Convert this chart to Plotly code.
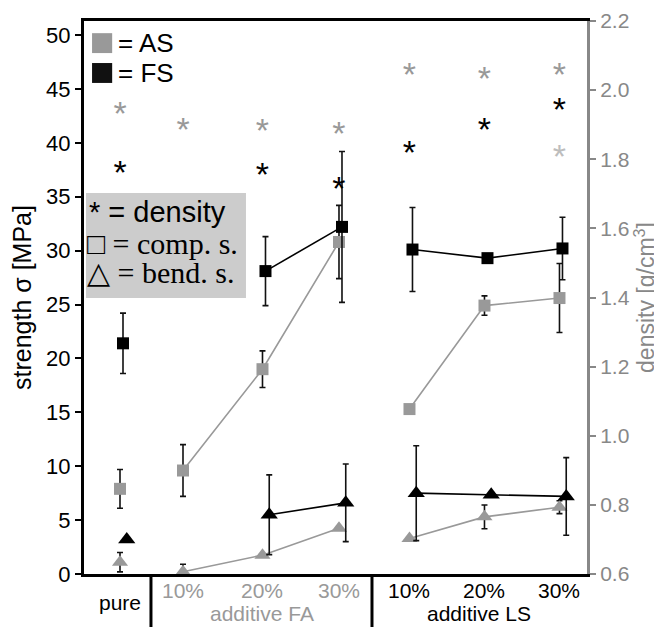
import plotly.graph_objects as go

# ---------------- data ----------------
categories = ["pure", "10%", "20%", "30%", "10%", "20%", "30%"]
group_labels = ["additive FA", "additive LS"]
cat_pos = [0.0, 0.84, 1.9, 2.92, 3.86, 4.86, 5.86]

as_comp = [7.9, 9.6, 19.0, 30.8, 15.3, 24.9, 25.6]
as_comp_err = [1.8, 2.4, 1.7, 3.4, 0.0, 0.9, 3.2]
fs_comp = [21.4, None, 28.1, 32.2, 30.1, 29.3, 30.2]
fs_comp_err = [2.8, None, 3.2, 7.0, 3.9, 0.3, 2.9]

as_bend = [1.1, 0.2, 1.75, 4.25, 3.3, 5.3, 6.2]
as_bend_err = [0.9, 0.7, 0.0, 0.0, 0.0, 1.1, 0.6]
fs_bend = [3.2, None, 5.5, 6.6, 7.5, 7.35, 7.2]
fs_bend_err = [0.0, None, 3.7, 3.6, 4.4, 0.0, 3.6]

as_density = [1.95, 1.905, 1.90, 1.893, 2.064, 2.052, 2.064]
fs_density = [1.78, None, 1.775, 1.734, 1.838, 1.905, 1.963]
extra_density = [None, None, None, None, None, None, 1.827]

# ---------------- style ----------------
GRAY = "#999999"
LIGHT = "#bdbdbd"
BLACK = "#000000"
W, H = 654, 619          # page body has an 8px margin
ML, MR, MT, MB = 76, 75, 13, 53
PLOT_H = H - MT - MB
Y2_RANGE = [0.6, 2.2]
STAR_SIZE = 34
star_drop = 0.27 * STAR_SIZE * (Y2_RANGE[1] - Y2_RANGE[0]) / PLOT_H

segments = [[1, 2, 3], [4, 5, 6]]


def seg_xy(vals, dx=0.0):
    xs, ys = [], []
    for seg in segments:
        for i in seg:
            if vals[i] is not None:
                xs.append(cat_pos[i] + dx)
                ys.append(vals[i])
        xs.append(None)
        ys.append(None)
    return xs, ys


fig = go.Figure()

series = [
    (as_comp, as_comp_err, GRAY, "square", 0.0, 12),
    (fs_comp, fs_comp_err, BLACK, "square", 0.04, 12),
    (as_bend, as_bend_err, GRAY, "triangle-up", 0.0, 14),
    (fs_bend, fs_bend_err, BLACK, "triangle-up", 0.09, 15),
]

for vals, errs, col, sym, dx, size in series:
    lx, ly = seg_xy(vals, dx)
    fig.add_trace(go.Scatter(x=lx, y=ly, mode="lines",
                             line=dict(color=col, width=1.6),
                             hoverinfo="skip", showlegend=False))

for vals, errs, col, sym, dx, size in series:
    xs = [p + dx for p, v in zip(cat_pos, vals) if v is not None]
    ys = [v for v in vals if v is not None]
    es = [e for e, v in zip(errs, vals) if v is not None]
    fig.add_trace(go.Scatter(
        x=xs, y=ys, mode="markers",
        marker=dict(symbol=sym, size=size, color=col,
                    line=dict(width=0)),
        error_y=dict(type="data", array=es, visible=True,
                     color="#111111", thickness=1.6, width=3),
        showlegend=False))

# density stars (text asterisks) on right axis
for vals, col in [(as_density, GRAY), (fs_density, BLACK), (extra_density, LIGHT)]:
    xs = [p for p, v in zip(cat_pos, vals) if v is not None]
    ys = [v - star_drop for v in vals if v is not None]
    fig.add_trace(go.Scatter(
        x=xs, y=ys, yaxis="y2", mode="text", text=["*"] * len(xs),
        textposition="middle center",
        textfont=dict(size=STAR_SIZE, color=col,
                      family="Liberation Sans, Arial"),
        showlegend=False, hoverinfo="skip"))

x_range = [-0.48, 6.227]

shapes = []
# separators below axis
for sx in [0.413, 3.36]:
    shapes.append(dict(type="line", xref="x", yref="paper", x0=sx, x1=sx,
                       y0=0, y1=-0.1, line=dict(color=BLACK, width=3)))
# AS / FS legend squares
shapes.append(dict(type="rect", xref="paper", yref="paper", x0=0.016, x1=0.056,
                   y0=0.942, y1=0.978, fillcolor=GRAY, line=dict(width=0)))
shapes.append(dict(type="rect", xref="paper", yref="paper", x0=0.016, x1=0.056,
                   y0=0.888, y1=0.924, fillcolor="#111111", line=dict(width=0)))
# gray box
shapes.append(dict(type="rect", xref="paper", yref="paper", x0=0.004, x1=0.322,
                   y0=0.499, y1=0.689, fillcolor="#cccccc", line=dict(width=0),
                   layer="below"))

SANS = "Liberation Sans, Arial"
SERIF = "Liberation Serif, DejaVu Serif, Times New Roman"

ann = []
ann.append(dict(xref="paper", yref="paper", x=0.064, y=0.960, xanchor="left",
                yanchor="middle", text="= AS", showarrow=False,
                font=dict(family=SANS, size=26, color=BLACK)))
ann.append(dict(xref="paper", yref="paper", x=0.064, y=0.906, xanchor="left",
                yanchor="middle", text="= FS", showarrow=False,
                font=dict(family=SANS, size=26, color=BLACK)))
ann.append(dict(xref="paper", yref="paper", x=0.006, y=0.655, xanchor="left",
                yanchor="middle", text="* = density", showarrow=False,
                font=dict(family=SANS, size=29, color=BLACK)))
ann.append(dict(xref="paper", yref="paper", x=0.002, y=0.598, xanchor="left",
                yanchor="middle", text="□ = comp. s.", showarrow=False,
                font=dict(family=SERIF, size=30, color=BLACK)))
ann.append(dict(xref="paper", yref="paper", x=0.002, y=0.545, xanchor="left",
                yanchor="middle", text="△ = bend. s.", showarrow=False,
                font=dict(family=SERIF, size=30, color=BLACK)))

# category labels
label_cols = [BLACK, GRAY, GRAY, GRAY, BLACK, BLACK, BLACK]
for i, (c, col) in enumerate(zip(categories, label_cols)):
    ann.append(dict(xref="x", yref="paper", x=cat_pos[i], y=0,
                    yanchor="middle", xanchor="center", text=c,
                    yshift=-28 if i == 0 else -16, showarrow=False,
                    font=dict(family=SANS, size=21, color=col)))
ann.append(dict(xref="x", yref="paper", x=cat_pos[2], y=0, yanchor="middle",
                xanchor="center", text=group_labels[0], yshift=-39,
                showarrow=False, font=dict(family=SANS, size=21, color=GRAY)))
ann.append(dict(xref="x", yref="paper", x=cat_pos[5] - 0.07, y=0, yanchor="middle",
                xanchor="center", text=group_labels[1], yshift=-39,
                showarrow=False, font=dict(family=SANS, size=21, color=BLACK)))

fig.update_layout(
    width=W, height=H,
    margin=dict(l=ML, r=MR, t=MT, b=MB),
    paper_bgcolor="white", plot_bgcolor="white",
    shapes=shapes, annotations=ann,
    xaxis=dict(range=x_range, showgrid=False, zeroline=False,
               showticklabels=False, ticks="", automargin=False,
               showline=True, mirror=True, linecolor=BLACK, linewidth=3),
    yaxis=dict(range=[0, 51.3], tickvals=list(range(0, 51, 5)),
               showgrid=False, zeroline=False, automargin=False,
               showline=True, linecolor=BLACK, linewidth=3,
               ticks="outside", ticklen=6, tickwidth=2, tickcolor=BLACK,
               tickfont=dict(family=SANS, size=22, color=BLACK),
               title=dict(text="strength σ [MPa]", standoff=8,
                          font=dict(family=SANS, size=25, color=BLACK))),
    yaxis2=dict(range=Y2_RANGE, overlaying="y", side="right",
                tickvals=[0.6, 0.8, 1.0, 1.2, 1.4, 1.6, 1.8, 2.0, 2.2],
                ticktext=["0.6", "0.8", "1.0", "1.2", "1.4", "1.6", "1.8", "2.0", "2.2"],
                showgrid=False, zeroline=False, automargin=False,
                showline=True, linecolor="#888888", linewidth=3,
                ticks="outside", ticklen=6, tickwidth=2, tickcolor="#888888",
                tickfont=dict(family=SANS, size=21, color="#888888"),
                title=dict(text="density [g/cm<sup>3</sup>]", standoff=0,
                           font=dict(family=SANS, size=23, color="#888888"))),
)

fig.write_html("out.html")
